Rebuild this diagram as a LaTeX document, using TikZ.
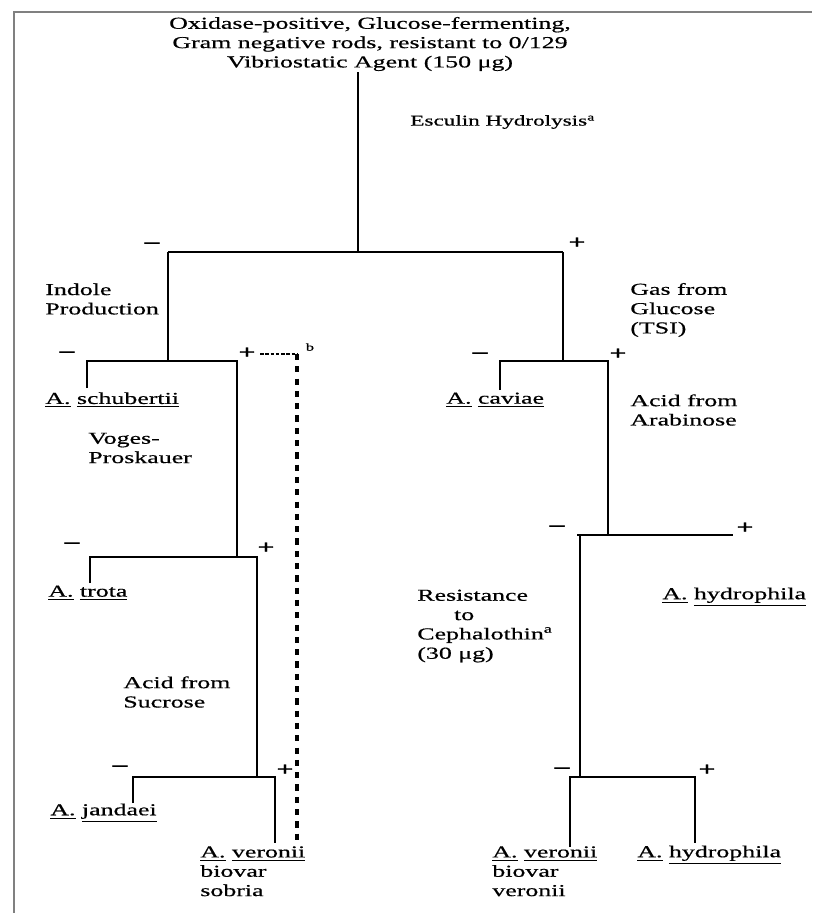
\documentclass[tikz,border=0pt]{standalone}
\usepackage{fontspec}
\setmainfont{Liberation Serif}[FakeStretch=1.55,FakeBold=0.6]
\usepackage{tikz}
\newcommand{\aero}[1]{\underline{A.}~\underline{#1}}

\begin{document}
\begin{tikzpicture}[x=0.02cm,y=-0.02cm,
  txt/.style={font=\fontsize{9.5}{11}\selectfont,inner sep=0pt,align=left},
  sgn/.style={font=\fontsize{11}{11}\selectfont\bfseries,inner sep=0pt},
  br/.style={line width=1.2pt},
  dots/.style={line width=2.2pt,dash pattern=on 3.5pt off 3.5pt}]
\useasboundingbox (0,0) rectangle (812,913);
\draw[gray,line width=1pt] (14,913) -- (14,12) -- (812,12);
\node[txt,align=center] (title) at (370,44) {Oxidase-positive, Glucose-fermenting,\\Gram negative rods, resistant to 0/129\\Vibriostatic Agent (150 μg)};
\node[txt,anchor=west,font=\fontsize{8.5}{10}\selectfont] (esc) at (410,122) {Esculin Hydrolysis\textsuperscript{a}};
\node[txt,anchor=west] (ind) at (45,299) {Indole\\Production};
\node[txt,anchor=west] (gas) at (630,310) {Gas from\\Glucose\\(TSI)};
\node[txt,anchor=west] (vp) at (88,448) {Voges-\\Proskauer};
\node[txt,anchor=west] (ara) at (630,410) {Acid from\\Arabinose};
\node[txt,anchor=west] (suc) at (123,692) {Acid from\\Sucrose};
\node[txt,anchor=west] (ceph) at (417,626) {Resistance\\\hspace*{2.2em}to\\Cephalothin\textsuperscript{a}\\(30 μg)};
\node[txt,anchor=west] (schu) at (45,400) {\aero{schubertii}};
\node[txt,anchor=west] (cav) at (446,400) {\aero{caviae}};
\node[txt,anchor=west] (tro) at (48,593) {\aero{trota}};
\node[txt,anchor=west] (hyd1) at (662,597) {\aero{hydrophila}};
\node[txt,anchor=west] (jan) at (50,813) {\aero{jandaei}};
\node[txt,anchor=north west] (sob) at (200,846) {\aero{veronii}\\biovar\\sobria};
\node[txt,anchor=north west] (ver) at (492,846) {\aero{veronii}\\biovar\\veronii};
\node[txt,anchor=west] (hyd2) at (637,855) {\aero{hydrophila}};
\node[sgn] (m1) at (152,245) {--};
\node[sgn] (p1) at (577,243) {+};
\node[sgn] (m2) at (67,354) {--};
\node[sgn] (p2) at (247,353) {+};
\node[sgn] (m3) at (480,355) {--};
\node[sgn] (p3) at (618,354) {+};
\node[sgn] (m4) at (72,545) {--};
\node[sgn] (p4) at (266,548) {+};
\node[sgn] (m5) at (557,528) {--};
\node[sgn] (p5) at (745,528) {+};
\node[sgn] (m6) at (120,768) {--};
\node[sgn] (p6) at (285,770) {+};
\node[sgn] (m7) at (562,770) {--};
\node[sgn] (p7) at (707,770) {+};
\node[txt,font=\fontsize{6}{6}\selectfont] (fb) at (310,347) {b};
\coordinate (r0) at (358,72);
\coordinate (r1) at (358,252);
\coordinate (eL) at (168,252);
\coordinate (eR) at (563,252);
\coordinate (iC) at (168,361);
\coordinate (iL) at (87,361);
\coordinate (iR) at (237,361);
\coordinate (iD) at (87,388);
\coordinate (vC) at (237,557);
\coordinate (vL) at (90,557);
\coordinate (vR) at (257,557);
\coordinate (vD) at (90,583);
\coordinate (sL) at (133,777);
\coordinate (sR) at (275,777);
\coordinate (sC) at (257,777);
\coordinate (sDL) at (133,803);
\coordinate (sDR) at (275,843);
\coordinate (gC) at (563,361);
\coordinate (gL) at (500,361);
\coordinate (gR) at (608,361);
\coordinate (gD) at (500,390);
\coordinate (aC) at (608,535);
\coordinate (aL) at (577,535);
\coordinate (aR) at (733,535);
\coordinate (cT) at (580,535);
\coordinate (cC) at (580,777);
\coordinate (cL) at (570,777);
\coordinate (cR) at (695,777);
\coordinate (cDL) at (570,847);
\coordinate (cDR) at (695,843);
\coordinate (d0) at (260,354);
\coordinate (d1) at (297,354);
\coordinate (d2) at (297,840);
\draw[br] (r0) -- (r1);
\draw[br] (eL) -- (eR);
\draw[br] (eL) -- (iC);
\draw[br] (iD) -- (iL) -- (iR) -- (vC);
\draw[br] (vD) -- (vL) -- (vR) -- (sC);
\draw[br] (sDL) -- (sL) -- (sR) -- (sDR);
\draw[br] (eR) -- (gC);
\draw[br] (gD) -- (gL) -- (gR) -- (aC);
\draw[br] (aL) -- (aR);
\draw[br] (cT) -- (cC);
\draw[br] (cDL) -- (cL) -- (cR) -- (cDR);
\draw[line width=1.2pt,dash pattern=on 2pt off 1pt] (d0) -- (d1);
\draw[dots] (d1) -- (d2);
\end{tikzpicture}
\end{document}
